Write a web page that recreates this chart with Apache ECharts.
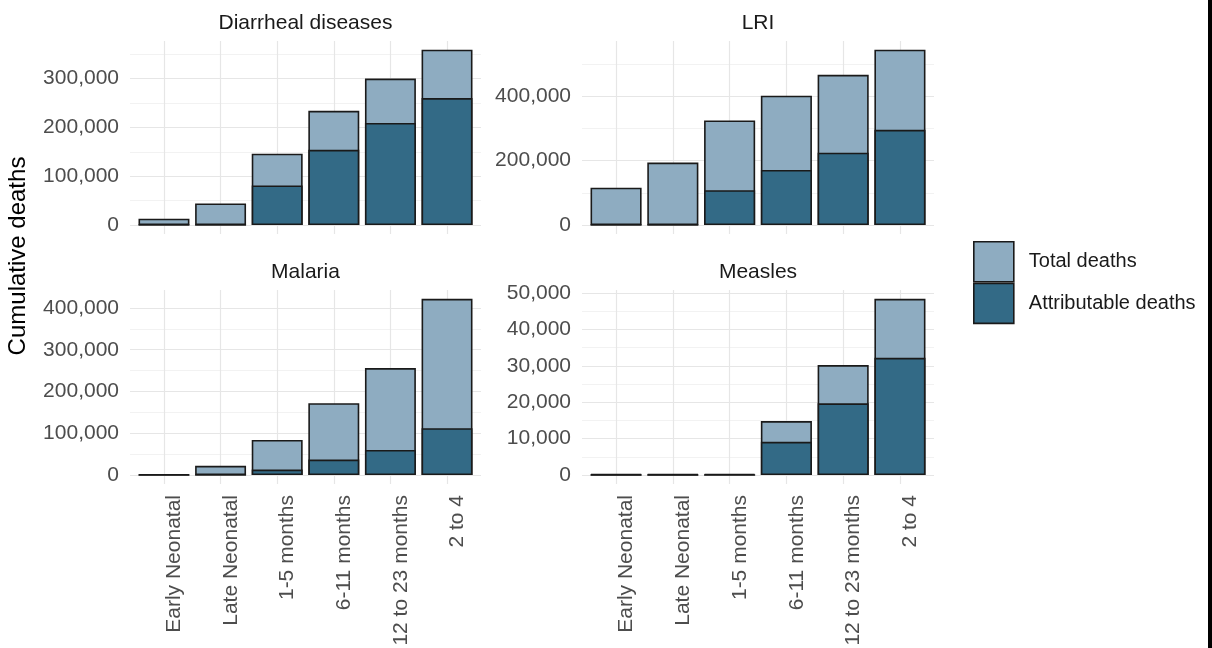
<!DOCTYPE html>
<html>
<head>
<meta charset="utf-8">
<script src="https://cdn.jsdelivr.net/npm/echarts@6/dist/echarts.min.js"></script>
<style>
  html, body { margin: 0; padding: 0; background: #ffffff; }
  #chart { width: 1212px; height: 648px; }
</style>
</head>
<body>
<div id="chart"></div>
<script>
// Age groups along the x axis of every panel
const ageGroups = ['Early Neonatal', 'Late Neonatal', '1-5 months', '6-11 months', '12 to 23 months', '2 to 4'];

// Cumulative deaths per cause
const diarrhealTotal        = [13000, 44000, 146000, 234000, 300000, 359000];
const diarrhealAttributable = [0, 0, 81000, 154000, 209000, 260000];

const lriTotal              = [116000, 194000, 325000, 402000, 467000, 545000];
const lriAttributable       = [0, 0, 108000, 171000, 225000, 296000];

const malariaTotal          = [1500, 22000, 84000, 172000, 256000, 422000];
const malariaAttributable   = [0, 0, 13000, 37000, 60000, 112000];

const measlesTotal          = [200, 200, 300, 14800, 30200, 48400];
const measlesAttributable   = [0, 0, 0, 9100, 19700, 32200];

// Labelled y tick spacing for each panel (unlabelled minor lines sit halfway)
const yLabelSteps = [100000, 200000, 100000, 10000];

const panelTitles = ['Diarrheal diseases', 'LRI', 'Malaria', 'Measles'];
const legendNames = ['Total deaths', 'Attributable deaths'];

// ---- styling / layout ----
const FONT = '"Liberation Sans", Arial, sans-serif';
const TEXT_SIZE = 21;
const LIGHT = '#8eacc1';
const DARK = '#336a86';
const EDGE = '#1a1a1a';
const GRID_MAJOR = '#e6e6e6';
const GRID_MINOR = '#f2f2f2';

const layout = [
  { left: 130, top: 41,  width: 351, height: 184, xLabels: false },
  { left: 582, top: 41,  width: 352, height: 184, xLabels: false },
  { left: 130, top: 290, width: 351, height: 185, xLabels: true },
  { left: 582, top: 290, width: 352, height: 185, xLabels: true }
];

const panelData = [
  [diarrhealTotal, diarrhealAttributable],
  [lriTotal, lriAttributable],
  [malariaTotal, malariaAttributable],
  [measlesTotal, measlesAttributable]
];

const grid = [], xAxis = [], yAxis = [], series = [], graphic = [];

panelData.forEach(function (pair, i) {
  const box = layout[i];
  const total = pair[0], attributable = pair[1];
  const step = yLabelSteps[i];
  // continuous scale padded 5% above the tallest bar, 0.6 band each side
  const yMax = Math.max.apply(null, total) * 1.05;
  const unit = box.width / 6.2;
  const g = grid.length;

  // panel background: horizontal grid lines + y tick labels
  grid.push({ left: box.left, top: box.top, width: box.width, height: box.height, containLabel: false, outerBoundsMode: 'none' });
  // bars: category bands inside the panel
  grid.push({ left: box.left + 0.1 * unit, top: box.top, width: 6 * unit, height: box.height, containLabel: false, outerBoundsMode: 'none' });

  xAxis.push({ gridIndex: g, type: 'value', show: false, min: 0, max: 1 });
  yAxis.push({
    gridIndex: g, type: 'value', min: 0, max: yMax, interval: step / 2,
    axisLine: { show: false }, axisTick: { show: false },
    axisLabel: {
      margin: 11, fontSize: TEXT_SIZE, color: '#4d4d4d', fontFamily: FONT,
      formatter: function (v) { return (Math.round(v) % step === 0) ? Math.round(v).toLocaleString('en-US') : ''; }
    },
    splitLine: { show: true, showMaxLine: false, lineStyle: { color: [GRID_MAJOR, GRID_MINOR], width: 1.2 } }
  });

  xAxis.push({
    gridIndex: g + 1, type: 'category', data: ageGroups,
    axisLine: { show: false },
    axisTick: { show: true, alignWithLabel: true, length: 9, lineStyle: { color: GRID_MAJOR, width: 1.2 } },
    splitLine: { show: true, alignWithLabel: true, lineStyle: { color: GRID_MAJOR, width: 1.2 } },
    axisLabel: {
      show: box.xLabels, interval: 0, rotate: 90, margin: 20, verticalAlign: 'top',
      fontSize: TEXT_SIZE, color: '#4d4d4d', fontFamily: FONT
    }
  });
  yAxis.push({ gridIndex: g + 1, type: 'value', show: false, min: 0, max: yMax });

  series.push({
    name: legendNames[0], type: 'bar', xAxisIndex: g + 1, yAxisIndex: g + 1,
    data: total, barWidth: '90%', barGap: '-100%', z: 2,
    itemStyle: { color: LIGHT, borderColor: EDGE, borderWidth: 1.6 }
  });
  series.push({
    name: legendNames[1], type: 'bar', xAxisIndex: g + 1, yAxisIndex: g + 1,
    data: attributable, barWidth: '90%', barGap: '-100%', z: 3,
    itemStyle: { color: DARK, borderColor: EDGE, borderWidth: 1.6 }
  });

  graphic.push({
    type: 'text', x: box.left + box.width / 2, y: box.top - 18,
    style: { text: panelTitles[i], textAlign: 'center', textVerticalAlign: 'middle', fontSize: TEXT_SIZE, fill: '#1a1a1a', fontFamily: FONT }
  });
});

// shared y axis title
graphic.push({
  type: 'text', x: 18, y: 256, rotation: Math.PI / 2,
  style: { text: 'Cumulative deaths', textAlign: 'center', textVerticalAlign: 'middle', fontSize: 24, fill: '#000000', fontFamily: FONT }
});
// frame line on the right edge
graphic.push({ type: 'rect', shape: { x: 1208, y: 0, width: 4, height: 648 }, style: { fill: '#000000' } });

const chart = echarts.init(document.getElementById('chart'), null, { renderer: 'canvas' });
chart.setOption({
  animation: false,
  backgroundColor: '#ffffff',
  grid: grid,
  xAxis: xAxis,
  yAxis: yAxis,
  series: series,
  graphic: graphic,
  legend: {
    data: legendNames, orient: 'vertical', left: 973, top: 241, padding: 0,
    itemWidth: 40, itemHeight: 40, itemGap: 0, icon: 'rect', selectedMode: false,
    itemStyle: { borderColor: EDGE, borderWidth: 1.6 },
    textStyle: { fontSize: 20, color: '#1a1a1a', fontFamily: FONT, padding: [0, 0, 0, 10] }
  }
});
</script>
</body>
</html>
